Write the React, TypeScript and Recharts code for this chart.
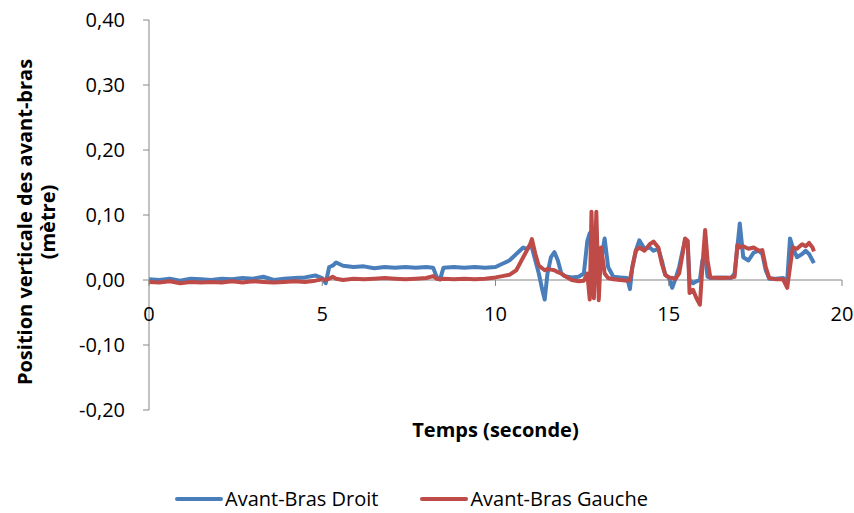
import React from 'react';
import { LineChart, Line, XAxis, YAxis, ReferenceLine, Legend } from 'recharts';

const times = [
  0.0, 0.3, 0.6, 0.9, 1.2, 1.5, 1.8, 2.1, 2.4, 2.7, 3.0, 3.3, 3.6, 3.9, 4.2, 4.5, 4.8, 5.0, 5.1, 5.2,
  5.3, 5.4, 5.6, 5.9, 6.2, 6.5, 6.8, 7.1, 7.4, 7.7, 8.0, 8.2, 8.3, 8.4, 8.5, 8.8, 9.1, 9.4, 9.7, 10.0,
  10.2, 10.4, 10.6, 10.7, 10.8, 10.9, 11.0, 11.05, 11.15, 11.25, 11.35, 11.42, 11.5, 11.6, 11.7, 11.8, 11.9, 12.0, 12.2, 12.4,
  12.55, 12.65, 12.72, 12.77, 12.84, 12.91, 12.98, 13.05, 13.15, 13.25, 13.4, 13.6, 13.8, 13.88, 13.95, 14.05, 14.15, 14.3, 14.45, 14.56,
  14.7, 14.8, 14.9, 15.0, 15.1, 15.2, 15.3, 15.4, 15.47, 15.55, 15.6, 15.7, 15.8, 15.9, 15.97, 16.05, 16.12, 16.2, 16.5, 16.8,
  16.9, 16.98, 17.05, 17.15, 17.3, 17.45, 17.6, 17.7, 17.8, 17.9, 18.1, 18.3, 18.42, 18.5, 18.58, 18.7, 18.85, 18.95, 19.05, 19.15,
  19.19,
];

const droit = [
  0.001, 0.0, 0.002, -0.001, 0.002, 0.001, 0.0, 0.002, 0.001, 0.003, 0.002, 0.005, 0.0, 0.002, 0.003, 0.004, 0.007, 0.003, -0.005, 0.02,
  0.022, 0.027, 0.022, 0.02, 0.021, 0.018, 0.02, 0.019, 0.02, 0.019, 0.02, 0.019, 0.005, 0.001, 0.019, 0.02, 0.019, 0.02, 0.019, 0.02,
  0.025, 0.03, 0.04, 0.045, 0.05, 0.048, 0.052, 0.05, 0.03, 0.01, -0.015, -0.03, 0.01, 0.035, 0.043, 0.03, 0.01, 0.006, 0.004, 0.005,
  0.01, 0.06, 0.072, 0.07, 0.065, 0.06, 0.04, 0.03, 0.064, 0.02, 0.005, 0.004, 0.003, -0.014, 0.02, 0.045, 0.061, 0.048, 0.05, 0.045,
  0.048, 0.03, 0.008, 0.004, -0.012, 0.003, 0.02, 0.045, 0.061, 0.05, 0.0, -0.005, -0.002, 0.0, 0.03, 0.035, 0.005, 0.003, 0.004, 0.003,
  0.01, 0.05, 0.087, 0.035, 0.03, 0.042, 0.045, 0.04, 0.015, 0.002, 0.002, 0.003, 0.0, 0.064, 0.05, 0.035, 0.04, 0.045, 0.04, 0.03,
  0.026,
];

const gauche = [
  -0.003, -0.004, -0.002, -0.005, -0.003, -0.004, -0.003, -0.004, -0.002, -0.004, -0.002, -0.003, -0.004, -0.003, -0.002, -0.003, -0.001, 0.001, 0.0, 0.002,
  0.005, 0.002, 0.0, 0.002, 0.001, 0.002, 0.003, 0.002, 0.001, 0.002, 0.003, 0.006, 0.002, 0.001, 0.002, 0.001, 0.002, 0.001, 0.002, 0.004,
  0.006, 0.008, 0.015, 0.025, 0.035, 0.045, 0.055, 0.063, 0.04, 0.022, 0.018, 0.015, 0.017, 0.016, 0.015, 0.012, 0.01, 0.006, 0.0, -0.002,
  -0.001, 0.01, -0.03, 0.105, -0.028, 0.105, -0.031, 0.05, 0.01, 0.003, 0.001, 0.0, -0.001, 0.0, 0.02, 0.045, 0.05, 0.045, 0.055, 0.059,
  0.05, 0.025, 0.008, 0.004, 0.003, 0.002, 0.01, 0.04, 0.064, 0.06, -0.02, -0.015, -0.028, -0.038, 0.02, 0.077, 0.03, 0.004, 0.003, 0.004,
  0.005, 0.054, 0.05, 0.052, 0.048, 0.05, 0.045, 0.046, 0.02, 0.003, 0.001, 0.001, -0.012, 0.02, 0.05, 0.048, 0.055, 0.052, 0.057, 0.05,
  0.044,
];

const xTicks = [0, 5, 10, 15, 20];
const yTicks = [-0.2, -0.1, 0, 0.1, 0.2, 0.3, 0.4];
const seriesNames = ['Avant-Bras Droit', 'Avant-Bras Gauche'];
const xTitle = 'Temps (seconde)';
const yTitleLines = ['Position verticale des avant-bras', '(mètre)'];

const data = times.map((t, i) => ({ t, droit: droit[i], gauche: gauche[i] }));

const FONT = '"Open Sans", "Liberation Sans", Arial, sans-serif';
const AXIS = '#868686';
const BLUE = '#4A7EBB';
const RED = '#BE4B48';

const XTick = (props: any) => {
  const { x, payload } = props;
  return (
    <g>
      <line x1={x} x2={x} y1={280} y2={286} stroke={AXIS} strokeWidth={1} />
      <text x={x} y={321} textAnchor="middle" fontFamily={FONT} fontSize={20} fill="#000">
        {payload.value}
      </text>
    </g>
  );
};

const XTitle = (props: any) => {
  const vb = props.viewBox || {};
  const cx = (vb.x ?? 149) + (vb.width ?? 693) / 2;
  return (
    <text x={cx} y={437} textAnchor="middle" fontFamily={FONT} fontSize={20} fontWeight="bold" fill="#000">
      {xTitle}
    </text>
  );
};

const YTitle = (props: any) => {
  const vb = props.viewBox || {};
  const cy = (vb.y ?? 20) + (vb.height ?? 390) / 2 + 7;
  return (
    <text
      transform={`translate(36, ${cy}) rotate(-90)`}
      textAnchor="middle"
      fontFamily={FONT}
      fontSize={20}
      fontWeight="bold"
      fill="#000"
    >
      <tspan x={0} dy={-4}>{yTitleLines[0]}</tspan>
      <tspan x={0} dy={23}>{yTitleLines[1]}</tspan>
    </text>
  );
};

const renderLegend = (props: any) => {
  const { payload } = props;
  return (
    <div style={{ display: 'flex', justifyContent: 'flex-start', paddingLeft: 175, fontFamily: FONT, fontSize: 20, color: '#000' }}>
      {(payload || []).map((p: any, i: number) => (
        <div key={i} style={{ display: 'flex', alignItems: 'center', marginRight: i === 0 ? 42 : 0 }}>
          <div style={{ width: 48, height: 4, background: p.color, borderRadius: 2, marginRight: 2 }} />
          <span>{p.value}</span>
        </div>
      ))}
    </div>
  );
};

export default function App() {
  return (
    <div style={{ position: 'absolute', left: 0, top: 0, width: 854, height: 513, background: '#fff' }}>
      <LineChart width={854} height={513} data={data} margin={{ top: 20, right: 12, bottom: 73, left: 0 }}>
        <XAxis
          dataKey="t"
          type="number"
          domain={[0, 20]}
          ticks={xTicks}
          axisLine={false}
          tickLine={false}
          tick={<XTick />}
          height={30}
          label={<XTitle />}
        />
        <YAxis
          type="number"
          domain={[-0.2, 0.4]}
          ticks={yTicks}
          width={149}
          tickSize={6}
          tickMargin={18}
          tickFormatter={(v: number) => v.toFixed(2).replace('.', ',')}
          tick={{ fontFamily: FONT, fontSize: 20, fill: '#000' }}
          axisLine={{ stroke: AXIS }}
          tickLine={{ stroke: AXIS }}
          label={<YTitle />}
        />
        <ReferenceLine y={0} stroke={AXIS} strokeWidth={1} />
        <Legend
          layout="horizontal"
          verticalAlign="middle"
          align="center"
          wrapperStyle={{ top: 485, left: 0, width: 854 }}
          content={renderLegend}
        />
        <Line
          type="linear"
          dataKey="droit"
          name={seriesNames[0]}
          stroke={BLUE}
          strokeWidth={4}
          dot={false}
          strokeLinejoin="round"
          isAnimationActive={false}
        />
        <Line
          type="linear"
          dataKey="gauche"
          name={seriesNames[1]}
          stroke={RED}
          strokeWidth={4}
          dot={false}
          strokeLinejoin="round"
          isAnimationActive={false}
        />
      </LineChart>
    </div>
  );
}
